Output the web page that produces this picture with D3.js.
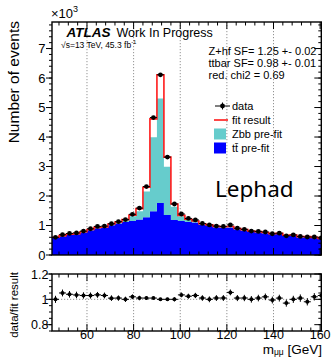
<!DOCTYPE html>
<html><head><meta charset="utf-8">
<script src="https://cdn.jsdelivr.net/npm/d3@7"></script>
<style>
html,body{margin:0;padding:0;background:#fff;}
svg{display:block;font-family:"Liberation Sans",Arial,Helvetica,sans-serif;}
</style></head><body>
<svg id="chart" width="332" height="357"></svg>
<script>
// Di-muon invariant mass, 3 GeV bins (bin centres)
const massCentres = [46.5,49.5,52.5,55.5,58.5,61.5,64.5,67.5,70.5,73.5,76.5,79.5,82.5,85.5,88.5,91.5,94.5,97.5,100.5,103.5,106.5,109.5,112.5,115.5,118.5,121.5,124.5,127.5,130.5,133.5,136.5,139.5,142.5,145.5,148.5,151.5,154.5,157.5,160.5];
const binHalfWidth = 1.5;

// Observed events
const dataEvents = [600,690,730,750,810,890,970,980,1060,1130,1200,1380,1590,2320,4660,6110,3320,1730,1390,1240,1190,1070,1020,980,970,1020,910,870,810,800,780,720,740,650,680,630,610,610,580];
// Post-fit total prediction
const fitEvents = [600,657,702,725,786,864,937,951,1050,1119,1200,1353,1574,2297,4614,6110,3320,1730,1343,1210,1155,1059,1020,970,960,967,901,861,810,792,765,724,733,670,680,624,622,598,563];
// Pre-fit templates (stacked: ttbar below, Zbb on top)
const ttbarPrefit = [580,635,680,700,760,835,905,920,1010,1070,1120,1150,1200,1280,1480,1760,1360,1190,1150,1120,1100,1020,980,940,930,930,870,830,780,770,740,700,710,650,660,600,600,580,545];
const zbbPrefit = [10,10,10,10,15,15,20,20,25,35,60,160,280,870,2510,3550,1630,450,160,80,50,30,20,20,20,20,20,15,15,10,10,10,10,10,10,10,10,10,10];
// Uncertainty on data / fit
const ratioErr = [0.028,0.027,0.026,0.026,0.025,0.024,0.023,0.023,0.022,0.021,0.021,0.019,0.018,0.015,0.010,0.009,0.012,0.017,0.019,0.020,0.021,0.022,0.023,0.023,0.023,0.023,0.024,0.025,0.026,0.026,0.026,0.027,0.027,0.028,0.028,0.029,0.029,0.029,0.030];

const mainYTicks = [0,1000,2000,3000,4000,5000,6000,7000];
const ratioYTicks = [0.8,1.0,1.2];
const xTickValues = [60,80,100,120,140,160];
const gridValues = [60,80,100,120,140];

const svg = d3.select("#chart");
svg.append("rect").attr("width",332).attr("height",357).attr("fill","#fff");

const x = d3.scaleLinear().domain([45,160.5]).range([52,321.3]);
const y = d3.scaleLinear().domain([0,7900]).range([255,22]);
const yr = d3.scaleLinear().domain([0.75,1.2]).range([331,274]);

const cBlue = "#0000ff", cCyan = "#66cccc", cRed = "#ff1a1a";

// clip regions
const defs = svg.append("defs");
defs.append("clipPath").attr("id","mainClip").append("rect")
  .attr("x",x.range()[0]).attr("y",y.range()[1]).attr("width",x.range()[1]-x.range()[0]).attr("height",y.range()[0]-y.range()[1]);
defs.append("clipPath").attr("id","ratioClip").append("rect")
  .attr("x",x.range()[0]).attr("y",yr.range()[1]).attr("width",x.range()[1]-x.range()[0]).attr("height",yr.range()[0]-yr.range()[1]);

// dotted grid
const grid = svg.append("g").attr("stroke","#777").attr("stroke-width",0.8).attr("stroke-dasharray","1.2,1.8");
gridValues.forEach(v=>{
  grid.append("line").attr("x1",x(v)).attr("x2",x(v)).attr("y1",y.range()[1]).attr("y2",y.range()[0]);
  grid.append("line").attr("x1",x(v)).attr("x2",x(v)).attr("y1",yr.range()[1]).attr("y2",yr.range()[0]);
});
grid.append("line").attr("x1",x.range()[0]).attr("x2",x.range()[1]).attr("y1",yr(1)).attr("y2",yr(1));

// step helper: each bin becomes two points at its edges
function steps(values, base){
  const pts=[];
  massCentres.forEach((c,i)=>{
    const b = base ? base[i] : 0;
    pts.push({m:c-binHalfWidth, lo:b, hi:b+values[i]});
    pts.push({m:c+binHalfWidth, lo:b, hi:b+values[i]});
  });
  return pts;
}
const area = d3.area().x(d=>x(d.m)).y0(d=>y(d.lo)).y1(d=>y(d.hi));
const main = svg.append("g").attr("clip-path","url(#mainClip)");
main.append("path").datum(steps(ttbarPrefit)).attr("d",area).attr("fill",cBlue);
main.append("path").datum(steps(zbbPrefit, ttbarPrefit)).attr("d",area).attr("fill",cCyan);

// fit result outline
const fitLine = d3.line().x(d=>x(d.m)).y(d=>y(d.hi));
main.append("path").datum(steps(fitEvents)).attr("d",fitLine)
  .attr("fill","none").attr("stroke",cRed).attr("stroke-width",1.6);

// data points
const pts = main.append("g");
massCentres.forEach((c,i)=>{
  pts.append("line").attr("x1",x(c-binHalfWidth)).attr("x2",x(c+binHalfWidth))
    .attr("y1",y(dataEvents[i])).attr("y2",y(dataEvents[i])).attr("stroke","#000").attr("stroke-width",1);
  pts.append("circle").attr("cx",x(c)).attr("cy",y(dataEvents[i])).attr("r",2.4).attr("fill","#000");
});

// ratio panel
const rat = svg.append("g").attr("clip-path","url(#ratioClip)");
massCentres.forEach((c,i)=>{
  const r = dataEvents[i]/fitEvents[i];
  rat.append("line").attr("x1",x(c-binHalfWidth)).attr("x2",x(c+binHalfWidth))
    .attr("y1",yr(r)).attr("y2",yr(r)).attr("stroke","#000").attr("stroke-width",1);
  rat.append("line").attr("x1",x(c)).attr("x2",x(c))
    .attr("y1",yr(r-ratioErr[i])).attr("y2",yr(r+ratioErr[i])).attr("stroke","#000").attr("stroke-width",1);
  rat.append("circle").attr("cx",x(c)).attr("cy",yr(r)).attr("r",2).attr("fill","#000");
});

// frames and ticks
function frame(ys, majorY, minorY, labelFmt, labelX, fontSize){
  const [yb, yt] = ys.range();
  const g = svg.append("g");
  const x0 = x.range()[0], x1 = x.range()[1];
  minorY.forEach(v=>{
    g.append("line").attr("x1",x0-3).attr("x2",x0).attr("y1",ys(v)).attr("y2",ys(v)).attr("stroke","#000");
    g.append("line").attr("x1",x1-3).attr("x2",x1).attr("y1",ys(v)).attr("y2",ys(v)).attr("stroke","#000");
  });
  majorY.forEach(v=>{
    g.append("line").attr("x1",x0-6).attr("x2",x0).attr("y1",ys(v)).attr("y2",ys(v)).attr("stroke","#000");
    g.append("line").attr("x1",x1-7).attr("x2",x1).attr("y1",ys(v)).attr("y2",ys(v)).attr("stroke","#000");
    g.append("text").attr("x",labelX).attr("y",ys(v)).attr("dy","0.36em").attr("text-anchor","end")
      .attr("font-size",fontSize).text(labelFmt(v));
  });
  // top / bottom ticks every 4 GeV, pointing inward
  d3.range(48,161,4).forEach(m=>{
    const len = (m%20===0)?7:3.5;
    g.append("line").attr("x1",x(m)).attr("x2",x(m)).attr("y1",yt).attr("y2",yt+len).attr("stroke","#000");
    g.append("line").attr("x1",x(m)).attr("x2",x(m)).attr("y1",yb).attr("y2",yb-len).attr("stroke","#000");
  });
  g.append("rect").attr("x",x0).attr("y",yt).attr("width",x1-x0).attr("height",yb-yt)
    .attr("fill","none").attr("stroke","#000").attr("stroke-width",1.4);
}
frame(y, mainYTicks, d3.range(0,7900,200), v=>d3.format("d")(v/1000), 45.5, 13);
frame(yr, ratioYTicks, d3.range(0.75,1.2001,0.05), v=>d3.format("~g")(v), 48.5, 12.5);

// x tick labels
xTickValues.forEach(v=>{
  svg.append("text").attr("x",x(v)).attr("y",339).attr("text-anchor","middle").attr("font-size",12.5).text(v);
});

// axis titles
svg.append("text").attr("transform","translate(19,21) rotate(-90)").attr("text-anchor","end")
  .attr("font-size",15.5).text("Number of events");
svg.append("text").attr("transform","translate(18,272) rotate(-90)").attr("text-anchor","end")
  .attr("font-size",11.5).text("data/fit result");
const xt = svg.append("text").attr("x",322).attr("y",353.5).attr("text-anchor","end").attr("font-size",13.5);
xt.append("tspan").text("m");
xt.append("tspan").attr("font-size",8.5).attr("dy",1.5).text("μμ");
xt.append("tspan").attr("dy",-1.5).text(" [GeV]");

// exponent
const ex = svg.append("text").attr("x",51).attr("y",18).attr("font-size",13);
ex.append("tspan").text("×10");
ex.append("tspan").attr("font-size",9).attr("dy",-6).text("3");

// labels
svg.append("text").attr("x",66.5).attr("y",36.5).attr("font-size",13.5)
  .attr("font-weight","bold").attr("font-style","italic").text("ATLAS");
svg.append("text").attr("x",116.5).attr("y",36.5).attr("font-size",12.5).text("Work In Progress");
const lumi = svg.append("text").attr("x",61).attr("y",47.5).attr("font-size",8.5);
lumi.append("tspan").text("√s=13 TeV, 45.3 fb");
lumi.append("tspan").attr("font-size",6).attr("dy",-3.5).text("-1");

const info = ["Z+hf SF= 1.25 +- 0.02","ttbar SF= 0.98 +- 0.01","red. chi2 = 0.69"];
info.forEach((t,i)=>{
  svg.append("text").attr("x",208.5).attr("y",54.5+i*12.2).attr("font-size",11).text(t);
});

svg.append("text").attr("x",215).attr("y",197).attr("font-family","'Noto Sans',sans-serif")
  .attr("font-size",22.5).text("Lephad");

// legend
const lg = svg.append("g").attr("font-size",11);
lg.append("line").attr("x1",215).attr("x2",230).attr("y1",106).attr("y2",106).attr("stroke","#000");
lg.append("line").attr("x1",222.5).attr("x2",222.5).attr("y1",102.5).attr("y2",109.5).attr("stroke","#000");
lg.append("circle").attr("cx",222.5).attr("cy",106).attr("r",2.4).attr("fill","#000");
lg.append("text").attr("x",232).attr("y",110).text("data");
lg.append("line").attr("x1",214).attr("x2",228).attr("y1",120).attr("y2",120).attr("stroke",cRed).attr("stroke-width",1.6);
lg.append("text").attr("x",232).attr("y",124).text("fit result");
lg.append("rect").attr("x",214).attr("y",128.5).attr("width",12).attr("height",11).attr("fill",cCyan);
lg.append("text").attr("x",232).attr("y",138).text("Zbb pre-fit");
lg.append("rect").attr("x",214).attr("y",142.5).attr("width",12).attr("height",11).attr("fill",cBlue);
lg.append("text").attr("x",232).attr("y",152).text("tt\u0304 pre-fit");
</script>
</body></html>
